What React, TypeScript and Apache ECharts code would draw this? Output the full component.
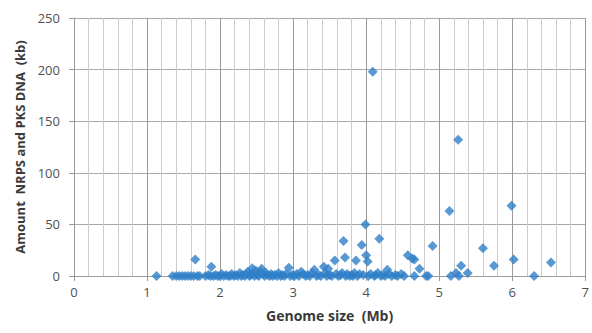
import React, { useEffect, useRef } from "react";
import * as echarts from "echarts";

const genomeSize: number[] = [
  1.13, 1.35, 1.4, 1.44, 1.48, 1.52, 1.56, 1.6, 1.64, 1.69, 1.72, 1.66, 1.88,
  1.8, 1.84, 1.87, 1.91, 1.94, 1.97, 2.0, 2.02, 2.05, 2.08, 2.11, 2.14, 2.16, 2.19,
  2.21, 2.24, 2.27, 2.29, 2.31, 2.34, 2.36, 2.38, 2.4, 2.42, 2.44, 2.45, 2.47, 2.49,
  2.51, 2.53, 2.55, 2.57, 2.59, 2.61, 2.63, 2.65, 2.68, 2.7, 2.72, 2.75, 2.78, 2.8,
  2.83, 2.85, 2.88, 2.9, 2.94, 2.96, 2.99, 3.02, 3.05, 3.08, 3.11, 3.14, 3.17, 3.2,
  3.23, 3.26, 3.29, 3.32, 3.35, 3.38, 3.42, 3.44, 3.46, 3.48, 3.5, 3.53, 3.57, 3.59,
  3.62, 3.65, 3.67, 3.69, 3.71, 3.72, 3.74, 3.77, 3.8, 3.82, 3.84, 3.86, 3.88, 3.91,
  3.94, 3.96, 3.99, 4.0, 4.02, 4.03, 4.06, 4.09, 4.11, 4.13, 4.16, 4.18, 4.2, 4.23,
  4.26, 4.29, 4.31, 4.35, 4.4, 4.43, 4.48, 4.52, 4.57, 4.63, 4.66, 4.66, 4.73, 4.82,
  4.85, 4.91, 5.14, 5.16, 5.23, 5.26, 5.27, 5.3, 5.39, 5.6, 5.75, 5.99, 6.02, 6.3,
  6.53,
];

const amountKb: number[] = [
  0, 0, 0, 0, 0, 0, 0, 0, 0, 0, 0, 16, 9,
  0, 1, 0, 0, 1, 0, 0, 2, 0, 1, 0, 0, 2, 0,
  1, 0, 3, 0, 1, 0, 2, 4, 0, 1, 7.5, 3, 0, 5,
  1, 0, 4, 7, 2, 0, 3, 1, 0, 2, 0, 1, 0, 3,
  0, 1, 0, 2, 8, 0, 1, 0, 2, 0, 4, 2, 0, 1,
  0, 3, 6, 0, 1, 0, 9, 2.6, 0, 7, 1, 0, 15, 2,
  0, 1, 3, 34, 18, 0, 2, 0, 1, 0, 3, 15, 0, 2,
  30, 1, 50, 20, 14, 0, 2, 198, 0, 1, 3, 36, 0, 1,
  0, 6, 2, 0, 1, 0, 2, 0, 20, 17, 16, 0, 7, 0,
  0, 29, 63, 0, 3, 132, 0, 10, 3, 27, 10, 68, 16, 0,
  13,
];

const xTicks = { min: 0, max: 7, interval: 1 };
const yTicks = { min: 0, max: 250, interval: 50 };

export default function App() {
  const ref = useRef<HTMLDivElement>(null);
  useEffect(() => {
    if (!ref.current) return;
    const chart = echarts.init(ref.current, null, { renderer: "svg" });
    const data = genomeSize.map((x, i) => [x, amountKb[i]]);
    const font = "'Open Sans', 'Liberation Sans', sans-serif";
    chart.setOption({
      animation: false,
      backgroundColor: "#ffffff",
      grid: {
        left: 74,
        right: 6,
        top: 18,
        bottom: 57,
        containLabel: false,
      },
      xAxis: {
        type: "value",
        min: xTicks.min,
        max: xTicks.max,
        interval: xTicks.interval,
        name: "Genome size  (Mb)",
        nameLocation: "middle",
        nameGap: 32,
        nameTextStyle: { fontFamily: font, fontSize: 14, fontWeight: "bold", color: "#3a3a3a" },
        axisLine: { show: true, lineStyle: { color: "#9a9a9a", width: 1 } },
        axisTick: { show: true, length: 5, lineStyle: { color: "#9a9a9a" } },
        axisLabel: {
          fontFamily: font,
          fontSize: 13,
          color: "#505050",
          margin: 9,
          showMaxLabel: true,
          showMinLabel: true,
          formatter: (v: number) => String(v),
        },
        splitLine: { show: true, lineStyle: { color: "#9a9a9a", width: 1 } },
        minorTick: { show: false, splitNumber: 5 },
        minorSplitLine: { show: true, lineStyle: { color: "#cccccc", width: 1 } },
      },
      yAxis: {
        type: "value",
        min: yTicks.min,
        max: yTicks.max,
        interval: yTicks.interval,
        name: "Amount  NRPS and PKS DNA  (kb)",
        nameLocation: "middle",
        nameGap: 46,
        nameTextStyle: { fontFamily: font, fontSize: 13, fontWeight: "bold", color: "#3a3a3a" },
        axisLine: { show: true, lineStyle: { color: "#9a9a9a", width: 1 } },
        axisTick: { show: true, length: 5, lineStyle: { color: "#9a9a9a" } },
        axisLabel: { fontFamily: font, fontSize: 13, color: "#505050", margin: 14 },
        splitLine: { show: true, lineStyle: { color: "#a8a8a8", width: 1 } },
      },
      series: [
        {
          type: "scatter",
          data,
          symbol: "diamond",
          symbolSize: 10,
          itemStyle: { color: "#2f7fc8" },
        },
      ],
    });
    return () => chart.dispose();
  }, []);
  return (
    <div
      ref={ref}
      style={{ position: "fixed", left: 0, top: 0, width: 592, height: 333 }}
    />
  );
}
